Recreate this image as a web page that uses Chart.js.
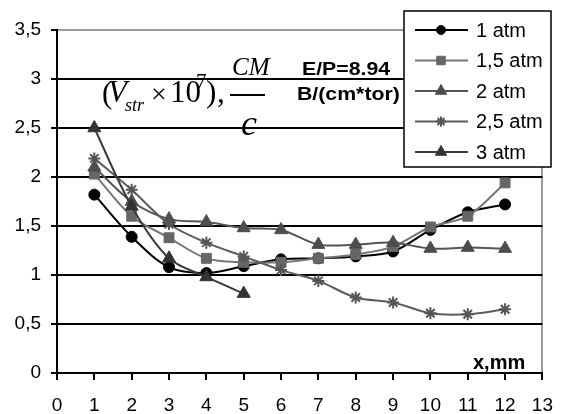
<!DOCTYPE html>
<html>
<head>
<meta charset="utf-8">
<script src="https://cdn.jsdelivr.net/npm/chart.js@4.4.0/dist/chart.umd.min.js"></script>
<style>
  html, body { margin: 0; padding: 0; background: #fff; }
  canvas { display: block; }
</style>
</head>
<body>
<canvas id="myChart" width="567" height="414"></canvas>
<script>
// x positions, mm
var xValues = [1, 2, 3, 4, 5, 6, 7, 8, 9, 10, 11, 12];

// drift velocity, Vstr x 10^7 cm/s
var atm1  = [1.82, 1.39, 1.08, 1.02, 1.09, 1.16, 1.17, 1.19, 1.24, 1.46, 1.64, 1.72];
var atm15 = [2.03, 1.60, 1.38, 1.17, 1.13, 1.13, 1.17, 1.21, 1.29, 1.49, 1.60, 1.94];
var atm2  = [2.10, 1.75, 1.57, 1.54, 1.48, 1.46, 1.31, 1.31, 1.33, 1.27, 1.28, 1.27];
var atm25 = [2.19, 1.87, 1.52, 1.33, 1.19, 1.05, 0.94, 0.77, 0.72, 0.61, 0.60, 0.65];
var atm3  = [2.50, 1.70, 1.17, 0.98, 0.81];

var seriesLabels = ['1 atm', '1,5 atm', '2 atm', '2,5 atm', '3 atm'];

function pts(vals) {
    return vals.map(function (v, i) { return { x: xValues[i], y: v }; });
}

function sets() {
    var defs = [
        { data: atm1,  line: '#000000', fill: '#000000', style: 'circle',   r: 5.5 },
        { data: atm15, line: '#767676', fill: '#666666', style: 'rect',     r: 7 },
        { data: atm2,  line: '#555555', fill: '#4d4d4d', style: 'triangle', r: 7.5 },
        { data: atm25, line: '#5c5c5c', fill: '#555555', style: 'star',     r: 6 },
        { data: atm3,  line: '#3a3a3a', fill: '#333333', style: 'triangle', r: 7.5 }
    ];
    return defs.map(function (d, i) {
        return {
            label: seriesLabels[i],
            data: pts(d.data),
            borderColor: d.line,
            borderWidth: 2,
            backgroundColor: d.fill,
            pointStyle: d.style,
            pointRadius: d.r,
            pointBorderColor: d.fill,
            pointBorderWidth: d.style === 'star' ? 2 : 1,
            tension: 0.33,
            order: 5 - i
        };
    });
}

// stretched bold text, like the original label boxes
function wideText(c, txt, x, y) {
    c.save();
    c.translate(x, y);
    c.scale(1.12, 1);
    c.fillText(txt, 0, 0);
    c.restore();
}

// legend box and the texts written over the plot
var overlay = {
    id: 'overlay',
    afterDraw: function (chart) {
        var c = chart.ctx;
        var ds = chart.data.datasets;
        c.save();

        // formula (Vstr x 10^7), cm/c
        c.fillStyle = '#000';
        c.textBaseline = 'alphabetic';
        c.textAlign = 'left';
        c.font = '31px "Liberation Serif"';
        c.fillText('(', 102, 103);
        c.font = 'italic 31px "Liberation Serif"';
        c.fillText('V', 108, 102);
        c.font = 'italic 18px "Liberation Serif"';
        c.fillText('str', 125, 111);
        c.font = '28px "Liberation Serif"';
        c.fillText('\u00d7', 151, 103);
        c.font = '31px "Liberation Serif"';
        c.fillText('10', 170, 102);
        c.font = '21px "Liberation Serif"';
        c.fillText('7', 196, 88);
        c.font = '31px "Liberation Serif"';
        c.fillText(')', 206, 102);
        c.fillText(',', 217, 102);
        c.font = 'italic 25px "Liberation Serif"';
        c.fillText('CM', 232, 75);
        c.fillRect(230, 94, 35, 2);
        c.font = 'italic 36px "Liberation Serif"';
        c.fillText('c', 241, 135);

        c.font = 'bold 19px "Liberation Sans"';
        wideText(c, 'E/P=8.94', 302, 75);
        wideText(c, 'B/(cm*tor)', 297, 100);

        c.font = 'bold 20px "Liberation Sans"';
        c.fillText('x,mm', 473, 369);

        // legend
        var lx = 404, ly = 11, lw = 147, lh = 156;
        c.fillStyle = '#fff';
        c.fillRect(lx, ly, lw, lh);
        c.strokeStyle = '#000';
        c.lineWidth = 1.5;
        c.strokeRect(lx, ly, lw, lh);
        c.font = '20px "Liberation Sans"';
        c.textBaseline = 'middle';
        ds.forEach(function (d, i) {
            var y = 30 + i * 30.5;
            c.strokeStyle = d.borderColor;
            c.lineWidth = 2;
            c.beginPath();
            c.moveTo(415, y);
            c.lineTo(468, y);
            c.stroke();
            c.fillStyle = d.backgroundColor;
            c.strokeStyle = d.pointBorderColor;
            c.lineWidth = d.pointBorderWidth;
            Chart.helpers.drawPoint(c, {
                pointStyle: d.pointStyle,
                radius: d.pointRadius - 1,
                borderWidth: d.pointBorderWidth,
                rotation: 0
            }, 441, y);
            c.fillStyle = '#000';
            c.fillText(d.label, 476, y + 1);
        });
        c.restore();
    }
};

var ctx = document.getElementById('myChart');
var myChart = new Chart(ctx, {
    type: 'line',
    data: { datasets: sets() },
    options: {
        responsive: false,
        animation: false,
        layout: { padding: { top: 30, right: 12, left: 0, bottom: 0 } },
        plugins: {
            legend: { display: false },
            tooltip: { enabled: false }
        },
        scales: {
            x: {
                type: 'linear',
                min: 0,
                max: 13,
                afterFit: function (s) { s.height = 41; },
                ticks: {
                    stepSize: 1,
                    color: '#000',
                    padding: 14,
                    font: { family: 'Liberation Sans', size: 19 }
                },
                grid: {
                    drawOnChartArea: true,
                    color: function (c) { return c.tick && c.tick.value === 13 ? '#9a9a9a' : 'rgba(0,0,0,0)'; },
                    tickColor: '#000',
                    tickLength: 7,
                    lineWidth: 2
                },
                border: { display: true, color: '#000', width: 2 }
            },
            y: {
                min: 0,
                max: 3.5,
                afterFit: function (s) { s.width = 57; },
                ticks: {
                    stepSize: 0.5,
                    color: '#000',
                    padding: 10,
                    font: { family: 'Liberation Sans', size: 19 },
                    callback: function (v) { return String(v).replace('.', ','); }
                },
                grid: {
                    color: function (c) { return c.tick && c.tick.value === 3.5 ? '#9a9a9a' : '#000'; },
                    tickColor: '#000',
                    tickLength: 6,
                    lineWidth: 2
                },
                border: { display: true, color: '#000', width: 2 }
            }
        }
    },
    plugins: [overlay]
});
</script>
</body>
</html>
